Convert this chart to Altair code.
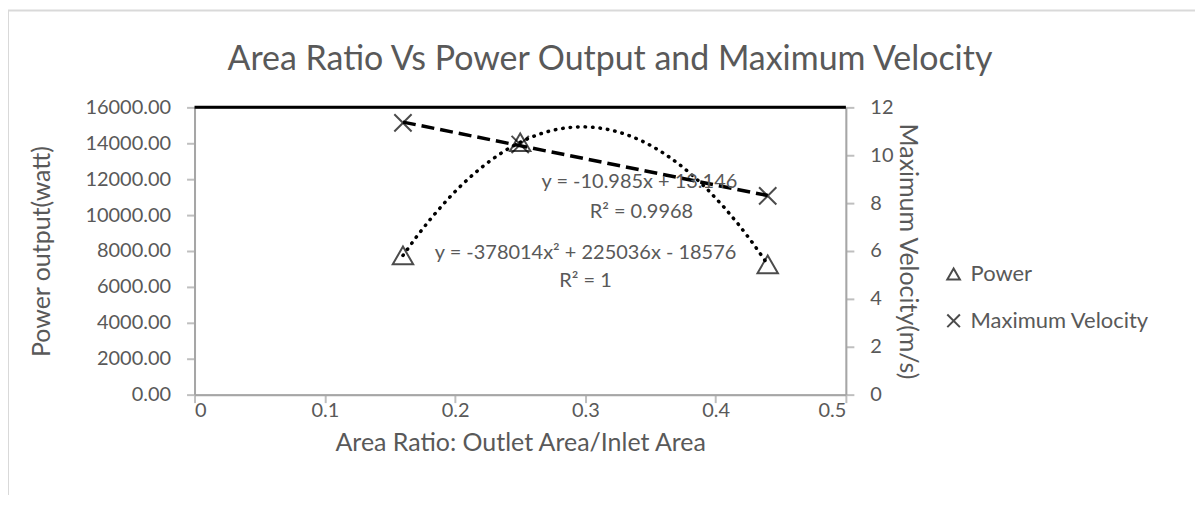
import altair as alt
import pandas as pd

# ---- data ----
area_ratio = [0.16, 0.25, 0.44]
power = [7753, 14057, 7258]
velocity = [11.35, 10.45, 8.3]
series_names = ["Power", "Maximum Velocity"]
power_ticks = [0, 2000, 4000, 6000, 8000, 10000, 12000, 14000, 16000]
velocity_ticks = [0, 2, 4, 6, 8, 10, 12]
ratio_ticks = [0, 0.1, 0.2, 0.3, 0.4, 0.5]

eq_linear = "y = -10.985x + 13.146"
r2_linear = "R² = 0.9968"
eq_poly = "y = -378014x² + 225036x - 18576"
r2_poly = "R² = 1"

title_text = "Area Ratio Vs Power Output and Maximum Velocity"
x_title = "Area Ratio: Outlet Area/Inlet Area"
y_left_title = "Power output(watt)"
y_right_title = "Maximum Velocity(m/s)"

FONT = "Lato"
GREY = "#595959"
W, H = 653, 288

df_p = pd.DataFrame({"ratio": area_ratio, "power": power, "series": series_names[0]})
df_v = pd.DataFrame({"ratio": area_ratio, "velocity": velocity, "series": series_names[1]})
one = pd.DataFrame({"k": [0]})

x_enc = alt.X("ratio:Q", scale=alt.Scale(domain=[0, 0.5], nice=False),
              axis=alt.Axis(values=ratio_ticks, format=".1~f",
                            title=x_title, titlePadding=10, labelPadding=-2))

cross_path = "M-1,-1L1,1M-1,1L1,-1"
shape_scale = alt.Scale(domain=series_names, range=["triangle-up", cross_path])
legend = alt.Legend(title=None, orient="none", legendX=750, legendY=156,
                    symbolSize=160, symbolStrokeWidth=2, symbolStrokeColor="black",
                    symbolFillColor="transparent", labelFontSize=22, labelColor=GREY,
                    labelFont=FONT, rowPadding=25, labelOffset=6, labelLimit=400)

y_left = alt.Y("power:Q", scale=alt.Scale(domain=[0, 16000], nice=False),
               axis=alt.Axis(values=power_ticks, format=".2f", tickCount=9,
                             labelOverlap=False, title=y_left_title,
                             titlePadding=30, labelPadding=16))

y_right = alt.Y("velocity:Q", scale=alt.Scale(domain=[0, 12], nice=False),
                axis=alt.Axis(orient="right", values=velocity_ticks,
                              labelOverlap=False, title=y_right_title,
                              titlePadding=2, labelPadding=16))

base_p = alt.Chart(df_p)
pts_p = base_p.mark_point(filled=False, color="black", strokeWidth=2, size=420).encode(
    x=x_enc, y=y_left,
    shape=alt.Shape("series:N", scale=shape_scale, legend=legend))
trend_p = base_p.transform_regression(
    "ratio", "power", method="poly", order=2, extent=[0.16, 0.44]
).mark_line(color="black", strokeWidth=3.5, strokeDash=[0.5, 7], strokeCap="round").encode(
    x=x_enc, y=y_left)
top_rule = alt.Chart(one).mark_rule(color="black", strokeWidth=3).encode(
    x=alt.value(0), x2=alt.value(W), y=alt.value(0))

txt_style = dict(font=FONT, fontSize=20, fontWeight="normal", fill=GREY,
                 align="center", baseline="middle")


def ann(text, px, py):
    return alt.Chart(pd.DataFrame({"t": [text]})).mark_text(**txt_style).encode(
        text="t:N", x=alt.value(px), y=alt.value(py))


anns = alt.layer(
    ann(eq_linear, 446, 75),
    ann(r2_linear, 448, 105),
    ann(eq_poly, 392, 146),
    ann(r2_poly, 392, 174),
)

left_layer = alt.layer(trend_p, pts_p)

base_v = alt.Chart(df_v)
pts_v = base_v.mark_point(filled=False, color="black", strokeWidth=2, size=300).encode(
    x=x_enc, y=y_right,
    shape=alt.Shape("series:N", scale=shape_scale, legend=legend))
trend_v = base_v.transform_regression(
    "ratio", "velocity", extent=[0.16, 0.44]
).mark_line(color="black", strokeWidth=3.5, strokeDash=[13, 6]).encode(
    x=x_enc, y=y_right)
right_layer = alt.layer(trend_v, pts_v)

border = alt.Chart(one).mark_rect(fill="transparent", stroke="#D9D9D9", strokeWidth=2).encode(
    x=alt.value(-187), x2=alt.value(1100), y=alt.value(-97), y2=alt.value(600))

chart = alt.layer(left_layer, right_layer, border, top_rule, anns).resolve_scale(
    y="independent"
).properties(
    width=W, height=H,
    title=alt.TitleParams(title_text, font=FONT, fontSize=34, fontWeight="normal",
                          color=GREY, anchor="middle", dx=90, offset=-68),
    padding={"left": 187, "top": 99, "right": 350, "bottom": 100},
    autosize=alt.AutoSizeParams(type="none"),
    background="white",
).configure_axis(
    labelFont=FONT, titleFont=FONT, labelFontSize=20, titleFontSize=25,
    labelColor=GREY, titleColor=GREY, titleFontWeight="normal", labelOverlap=False,
    domainColor="#A6A6A6", domainWidth=2, tickColor="#BFBFBF", tickSize=8, tickWidth=2,
    grid=False,
).configure_view(stroke="#595959", strokeWidth=1)

chart.save("out.html", embed_options={"renderer": "svg", "actions": False})
